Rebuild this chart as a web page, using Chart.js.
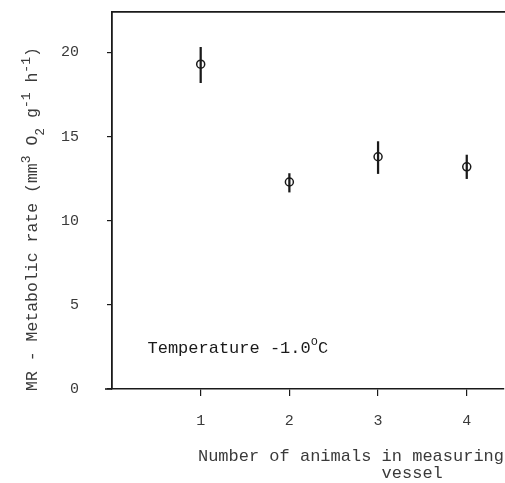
<!DOCTYPE html>
<html>
<head>
<meta charset="utf-8">
<script src="https://cdn.jsdelivr.net/npm/chart.js@4.4.0/dist/chart.umd.min.js"></script>
<style>
  html, body { margin: 0; padding: 0; background: #fff; }
  #wrap { width: 505px; height: 483px; }
</style>
</head>
<body>
<div id="wrap"><canvas id="mrChart" width="505" height="483"></canvas></div>
<script>
// Metabolic rate against number of animals per vessel (mean and range)
const ANIMALS = [1, 2, 3, 4];
const MR_MEAN = [19.3, 12.3, 13.8, 13.2];
const MR_LOW = [18.2, 11.7, 12.8, 12.5];
const MR_HIGH = [20.3, 12.8, 14.7, 13.9];
const X_TICKS = [1, 2, 3, 4];
const Y_TICKS = [0, 5, 10, 15, 20];

const X_MIN = 0, X_MAX = 4.42;
const Y_MIN = 0, Y_MAX = 22.4;

const INK = '#1a1a1a';
const LABEL_INK = '#3a3a3a';
const MONO = "'Liberation Mono', 'DejaVu Sans Mono', monospace";

// second line padded so "vessel" sits under "in measuring"
const X_TITLE = ['Number of animals in measuring', '                  vessel      '];

// s: 1 = superscript, -1 = subscript
const Y_TITLE = [
  { t: 'MR - Metabolic rate (mm', s: 0 },
  { t: '3', s: 1 },
  { t: ' O', s: 0 },
  { t: '2', s: -1 },
  { t: ' g', s: 0 },
  { t: '-1', s: 1 },
  { t: ' h', s: 0 },
  { t: '-1', s: 1 },
  { t: ')', s: 0 }
];

const NOTE_X = 0.40, NOTE_Y = 2.43;
const NOTE = [
  { t: 'Temperature -1.0', s: 0 },
  { t: 'o', s: 1 },
  { t: 'C', s: 0 }
];

function drawRich(ctx, parts, x, y, size, smallSize, rise) {
  let cx = x;
  parts.forEach(p => {
    ctx.font = (p.s ? smallSize : size) + 'px ' + MONO;
    ctx.fillText(p.t, cx, y - p.s * rise);
    cx += ctx.measureText(p.t).width;
  });
}

// keep the plot box fixed: no extra room for overhanging tick labels
function noOverhang(s) {
  s.paddingTop = 0;
  s.paddingBottom = 0;
  s.paddingLeft = 0;
  s.paddingRight = 0;
}

const textPlugin = {
  id: 'textPlugin',
  afterDraw(chart) {
    const { ctx, chartArea, scales } = chart;
    ctx.save();
    ctx.fillStyle = INK;
    ctx.strokeStyle = INK;
    ctx.textAlign = 'left';

    // x axis line runs a little past the y axis
    ctx.lineWidth = 1.6;
    ctx.beginPath();
    ctx.moveTo(chartArea.left - 7, chartArea.bottom);
    ctx.lineTo(chartArea.left, chartArea.bottom);
    ctx.stroke();

    // temperature note inside the plot
    ctx.textBaseline = 'middle';
    drawRich(ctx, NOTE, scales.x.getPixelForValue(NOTE_X), scales.y.getPixelForValue(NOTE_Y), 17, 12, 6);

    // rotated y axis title
    ctx.fillStyle = LABEL_INK;
    ctx.textBaseline = 'alphabetic';
    ctx.translate(37, 391);
    ctx.rotate(-Math.PI / 2);
    drawRich(ctx, Y_TITLE, 0, 0, 16.5, 13, 7);
    ctx.restore();
  }
};

new Chart(document.getElementById('mrChart'), {
  type: 'scatter',
  data: {
    datasets: [
      {
        type: 'scatter',
        data: ANIMALS.map((a, i) => ({ x: a, y: MR_MEAN[i] })),
        pointRadius: 4,
        pointHoverRadius: 4,
        borderWidth: 1.5,
        borderColor: INK,
        backgroundColor: 'rgba(0,0,0,0)',
        order: 0
      },
      {
        type: 'bar',
        data: ANIMALS.map((a, i) => ({ x: a, y: [MR_LOW[i], MR_HIGH[i]] })),
        barThickness: 1.6,
        backgroundColor: INK,
        borderWidth: 0,
        order: 1
      }
    ]
  },
  options: {
    responsive: false,
    animation: false,
    devicePixelRatio: 1,
    layout: { autoPadding: false, padding: { left: 0, right: 1, top: 12, bottom: 0 } },
    plugins: { legend: { display: false }, tooltip: { enabled: false } },
    scales: {
      x: {
        type: 'linear',
        position: 'bottom',
        min: X_MIN,
        max: X_MAX,
        offset: false,
        afterBuildTicks: s => { s.ticks = X_TICKS.map(v => ({ value: v })); },
        afterFit: s => { s.height = 94; noOverhang(s); },
        grid: { drawOnChartArea: false, drawTicks: true, tickLength: 7, color: INK, lineWidth: 1.2, offset: false },
        border: { display: true, color: INK, width: 1.6 },
        ticks: { padding: 16, color: LABEL_INK, font: { family: MONO, size: 15 } },
        title: {
          display: true,
          text: X_TITLE,
          align: 'end',
          color: LABEL_INK,
          font: { family: MONO, size: 17, lineHeight: 1 },
          padding: { top: 0, bottom: 1.5 }
        }
      },
      xTop: {
        type: 'linear',
        position: 'top',
        min: X_MIN,
        max: X_MAX,
        afterFit: s => { s.height = 0; noOverhang(s); },
        grid: { display: false, drawTicks: false },
        border: { display: true, color: INK, width: 1.8 },
        ticks: { display: false }
      },
      y: {
        type: 'linear',
        min: Y_MIN,
        max: Y_MAX,
        afterBuildTicks: s => { s.ticks = Y_TICKS.map(v => ({ value: v })); },
        afterFit: s => { s.width = 112; noOverhang(s); },
        grid: { drawOnChartArea: false, drawTicks: true, tickLength: 5, color: INK, lineWidth: 1.2 },
        border: { display: true, color: INK, width: 1.8 },
        ticks: { padding: 28, color: LABEL_INK, font: { family: MONO, size: 15 } }
      }
    }
  },
  plugins: [textPlugin]
});
</script>
</body>
</html>
